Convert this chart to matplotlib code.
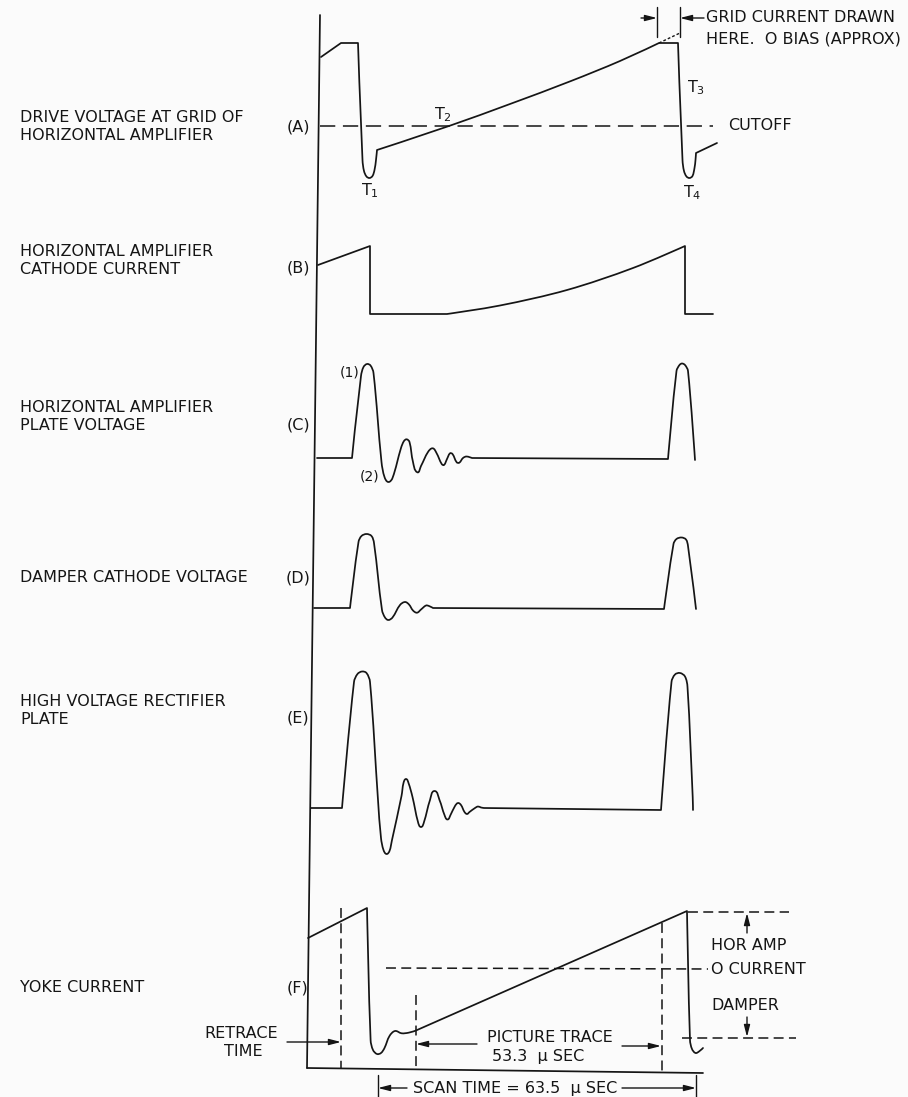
import numpy as np
import matplotlib.pyplot as plt
from matplotlib.path import Path
from matplotlib.patches import PathPatch

# ---- waveform data (drawing units: x = time position, y = level, y grows downward) ----
# corner lists give the points where the trace has a sharp bend

# (A) drive voltage at grid
a_x = [321, 341, 358, 362.5, 364, 366.5, 369.5, 372.5, 374.5, 376, 377, 449, 510, 571, 620, 659,
       678, 682.5, 684, 686.5, 689.5, 692.5, 694.5, 695.5, 696, 717]
a_y = [57, 43, 43, 160, 171, 176.5, 178, 176, 170, 160, 150, 126, 104, 81, 61, 43,
       43, 160, 171, 176.5, 178, 176, 168, 160, 153, 143]
a_corners = [1, 2, 10, 15, 16, 24]
grid_ext_x = [659, 680]
grid_ext_y = [43, 33]
cutoff_x = [320, 713]
cutoff_y = [126, 126]

# (B) cathode current
b_x = [318, 370, 370, 447, 500, 567, 633, 685, 685, 713]
b_y = [265, 246, 314, 314, 305.5, 290, 268, 246, 314, 314]
b_corners = [1, 2, 3, 7, 8]

# (C) plate voltage
c_x = [317, 352, 361, 363.5, 367, 370.5, 373.5, 381.5, 384.5, 388.3, 392.5, 401, 404, 406.7,
       409.5, 413, 417.3, 421, 428, 432.7, 436.5, 441.7, 444, 447, 450, 452.5, 456.7, 459.3,
       463, 466.5, 472, 668, 676.5, 679.5, 682, 685, 688, 695]
c_y = [458, 458, 376, 367, 364, 365.5, 373, 462, 477, 482, 478, 448, 441, 439.3,
       442, 462, 472.3, 466, 452, 448.3, 453, 464, 465, 459, 453.3, 454, 462.3, 462.7,
       458, 456.5, 458, 459, 371, 365, 363.5, 365, 371, 460]
c_corners = [1, 30, 31]

# (D) damper cathode voltage
d_x = [314, 350, 358.5, 361.5, 366.5, 371.5, 374, 382, 385, 388.3, 392.5, 400, 405, 409, 413,
       417, 421, 426, 429, 433, 664, 673.5, 676.5, 681.5, 686, 688, 696]
d_y = [608, 608, 542, 536, 534, 536, 543, 610, 617.5, 620, 617.5, 605, 602, 604.5, 610.5,
       612.7, 609.5, 605.5, 606, 608, 609, 544, 539, 537.5, 539.5, 546, 609]
d_corners = [1, 19, 20]

# (E) high voltage rectifier plate
e_x = [311, 342, 354, 357.5, 362, 366.5, 370, 378, 381, 383.5, 386.5, 389.5, 392, 401.5, 403.5,
       406, 408.5, 412.5, 418, 421, 424, 430, 434.5, 439.5, 444.5, 447.5, 450.5, 455, 458, 461,
       464.5, 467, 469.5, 475, 478, 481, 484, 661, 671.5, 675, 680, 685, 687.5, 692.7, 693]
e_y = [808, 808, 682, 674, 671.5, 673, 682, 800, 838, 850, 854, 851, 840, 796, 783,
       779, 783, 797, 822, 827, 822, 800, 791, 800, 815, 819.5, 815, 806, 803, 805,
       812, 814, 812, 808, 806.5, 807.5, 808, 810, 682, 674.5, 673, 676.5, 687, 797, 810]
e_corners = [1, 36, 37]

# (F) yoke current
f_x = [308, 367, 370.6, 373, 377, 381, 384.5, 389.5, 395, 401.6, 408.6, 415.5, 687, 690, 692,
       695.5, 699, 703]
f_y = [938, 908, 1040, 1050, 1054, 1053, 1048, 1036, 1031, 1033.3, 1032.7, 1030.7, 911, 1040,
       1049, 1053, 1051.5, 1048]
f_corners = [1, 11, 12]

# left-hand labels: (text lines, y of first line, letter, y of letter)
row_labels = [
    (["DRIVE VOLTAGE AT GRID OF", "HORIZONTAL AMPLIFIER"], 117, "(A)", 127),
    (["HORIZONTAL AMPLIFIER", "CATHODE CURRENT"], 251, "(B)", 268),
    (["HORIZONTAL AMPLIFIER", "PLATE VOLTAGE"], 407, "(C)", 425),
    (["DAMPER CATHODE VOLTAGE"], 578, "(D)", 578),
    (["HIGH VOLTAGE RECTIFIER", "PLATE"], 701, "(E)", 718),
    (["YOKE CURRENT"], 988, "(F)", 988),
]

ink = "#151515"
bg = "#fbfbfb"
fs = 11.5
lw = 1.25

fig = plt.figure(figsize=(9.08, 10.97), dpi=100, facecolor=bg)
ax = fig.add_axes([0, 0, 1, 1])
ax.set_facecolor(bg)
ax.set_xlim(0, 908)
ax.set_ylim(1097, 0)
ax.axis("off")


def line(xs, ys, **kw):
    kw.setdefault("color", ink)
    kw.setdefault("lw", lw)
    ax.plot(xs, ys, solid_joinstyle="round", solid_capstyle="round", **kw)


def trace(xs, ys, corners):
    # smooth curve through the points, sharp at the corner points
    p = np.column_stack([xs, ys]).astype(float)
    n = len(p)
    tan = np.zeros_like(p)
    for i in range(1, n - 1):
        if i in corners:
            continue
        d = p[i + 1] - p[i - 1]
        tan[i] = d / np.hypot(*d)
    verts = [p[0]]
    codes = [Path.MOVETO]
    for i in range(n - 1):
        seg = np.hypot(*(p[i + 1] - p[i]))
        verts += [p[i] + tan[i] * seg / 3, p[i + 1] - tan[i + 1] * seg / 3, p[i + 1]]
        codes += [Path.CURVE4] * 3
    ax.add_patch(PathPatch(Path(verts, codes), fill=False, edgecolor=ink, lw=lw,
                           joinstyle="round", capstyle="round"))


def arrow(x0, y0, x1, y1):
    ax.annotate("", xy=(x1, y1), xytext=(x0, y0),
                arrowprops=dict(arrowstyle="-|>,head_length=0.7,head_width=0.18",
                                color=ink, lw=1.0, shrinkA=0, shrinkB=0))


def txt(x, y, s, **kw):
    kw.setdefault("fontsize", fs)
    ax.text(x, y, s, color=ink, va="center", family="DejaVu Sans", **kw)


# time axis and base line
line([320, 307], [15, 1068])
line([307, 703], [1068, 1073])

# waveforms
trace(a_x, a_y, a_corners)
line(grid_ext_x, grid_ext_y, ls=(0, (2, 1.5)), lw=1.0)
line(cutoff_x, cutoff_y, ls=(0, (10, 5)), lw=1.1)
trace(b_x, b_y, b_corners)
trace(c_x, c_y, c_corners)
trace(d_x, d_y, d_corners)
trace(e_x, e_y, e_corners)
trace(f_x, f_y, f_corners)

# left labels
for lines_, y0, tag, ytag in row_labels:
    for i, s in enumerate(lines_):
        txt(20, y0 + i * 19, s)
    txt(298, ytag, tag, ha="center")

# (A) annotations
txt(728, 126, "CUTOFF")
txt(370, 191, r"T$_{\mathregular{1}}$", ha="center")
txt(443, 115, r"T$_{\mathregular{2}}$", ha="center")
txt(696, 88, r"T$_{\mathregular{3}}$", ha="center")
txt(692, 193, r"T$_{\mathregular{4}}$", ha="center")
line([657, 657], [7, 37], lw=1.0)
line([680, 680], [7, 37], lw=1.0)
arrow(641, 18, 657, 18)
arrow(704, 18, 680, 18)
txt(706, 18, "GRID CURRENT DRAWN")
txt(706, 39, "HERE.  O BIAS (APPROX)")

# (C) annotations
txt(350, 372, "(1)", ha="center", fontsize=10)
txt(370, 476, "(2)", ha="center", fontsize=10)

# (F) construction lines
fd = (0, (6.5, 3.5))
line([341, 341], [908, 1068], ls=fd, lw=1.1)
line([416, 416], [995, 1068], ls=fd, lw=1.1)
line([662, 662], [923, 1073], ls=fd, lw=1.1)
line([386, 708], [968, 969], ls=fd, lw=1.1)
line([688, 789], [912, 912], ls=fd, lw=1.1)
line([682, 796], [1038, 1038], ls=fd, lw=1.1)
arrow(747, 933, 747, 913)
arrow(747, 1017, 747, 1037)
txt(711, 946, "HOR AMP")
txt(711, 969, "O CURRENT")
txt(711, 1005, "DAMPER")

txt(241, 1034, "RETRACE", ha="center")
txt(243, 1052, "TIME", ha="center")
arrow(287, 1042, 341, 1042)

txt(550, 1037, "PICTURE TRACE", ha="center")
txt(538, 1056, "53.3  \u03bc SEC", ha="center")
arrow(477, 1044, 416, 1044)
arrow(622, 1046, 661, 1046)

line([378, 378], [1075, 1097], lw=1.0)
line([696, 696], [1075, 1097], lw=1.0)
arrow(407, 1088, 378, 1088)
arrow(622, 1088, 696, 1088)
txt(515, 1088, "SCAN TIME = 63.5  \u03bc SEC", ha="center")

fig.savefig("out.png", dpi=100, facecolor=fig.get_facecolor())
